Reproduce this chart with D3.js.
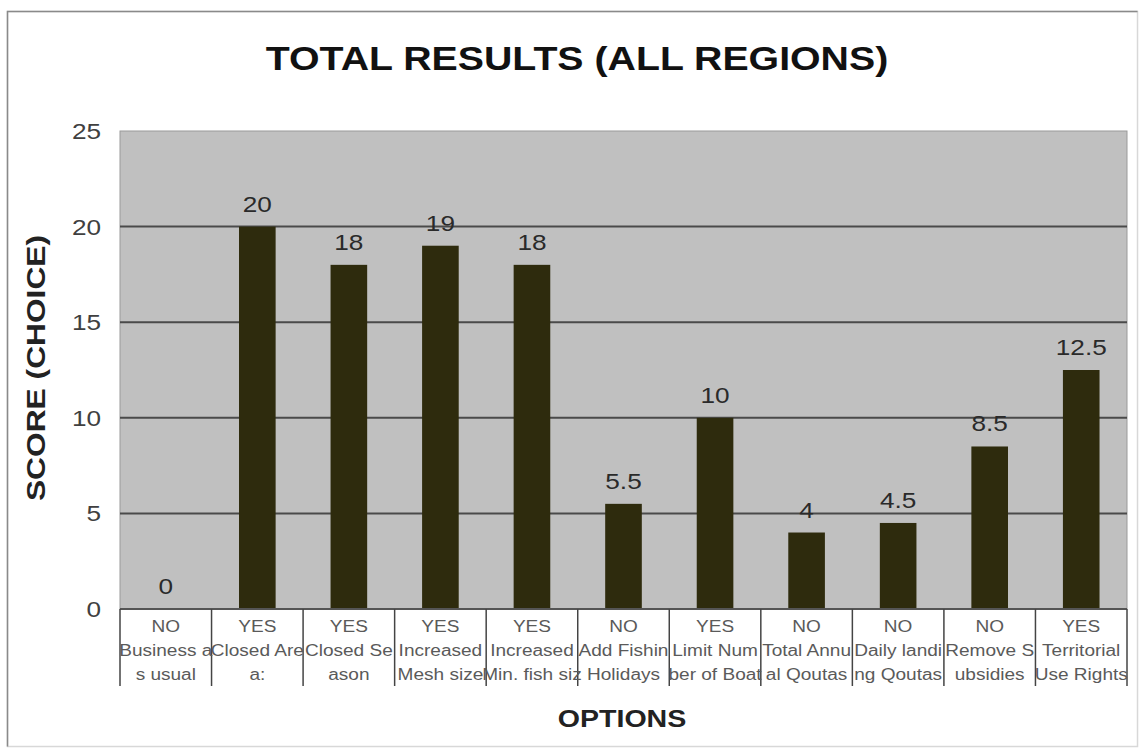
<!DOCTYPE html>
<html>
<head>
<meta charset="utf-8">
<script src="https://cdn.jsdelivr.net/npm/d3@7"></script>
<style>
  body { margin: 0; background: #fff; }
  text { font-family: "Liberation Sans", Arial, sans-serif; }
</style>
</head>
<body>
<div id="chart"></div>
<script>
// chart data
const categories = [
  "Business as usual", "Closed Area", "Closed Season", "Increased Mesh size",
  "Increased Min. fish size", "Add Fishing Holidays", "Limit Number of Boats",
  "Total Annual Qoutas", "Daily landing Qoutas", "Remove Subsidies", "Territorial Use Rights"
];
// label lines as wrapped in the picture
const labelLines = [
  ["NO", "Business a", "s usual"],
  ["YES", "Closed Are", "a:"],
  ["YES", "Closed Se", "ason"],
  ["YES", "Increased", "Mesh size"],
  ["YES", "Increased", "Min. fish siz"],
  ["NO", "Add Fishin", "Holidays"],
  ["YES", "Limit Num", "ber of Boat"],
  ["NO", "Total Annu", "al Qoutas"],
  ["NO", "Daily landi", "ng Qoutas"],
  ["NO", "Remove S", "ubsidies"],
  ["YES", "Territorial", "Use Rights"]
];
const scores = [0, 20, 18, 19, 18, 5.5, 10, 4, 4.5, 8.5, 12.5];
const yTicks = [0, 5, 10, 15, 20, 25];

const width = 1142;
const height = 749;
const plotLeft = 120;
const plotRight = 1127;
const plotTop = 131;
const plotBottom = 609;
const sx = 1.19; // picture is stretched horizontally

const svg = d3.select("#chart")
  .append("svg")
  .attr("width", width)
  .attr("height", height);

// outer chart border: left/top darker, right/bottom faint
svg.append("rect")
  .attr("x", 7.5).attr("y", 11.5)
  .attr("width", 1130).attr("height", 735)
  .attr("fill", "#fff")
  .attr("stroke", "#d8d8d8")
  .attr("stroke-width", 1.5);
svg.append("path")
  .attr("d", "M7.5,746.5V11.5H1137.5")
  .attr("fill", "none")
  .attr("stroke", "#8a8a8a")
  .attr("stroke-width", 1.5);

const x = d3.scaleBand()
  .domain(categories)
  .range([plotLeft, plotRight])
  .paddingInner(0)
  .paddingOuter(0);

const y = d3.scaleLinear()
  .domain([0, 25])
  .range([plotBottom, plotTop]);

// plot area
svg.append("rect")
  .attr("x", plotLeft).attr("y", plotTop)
  .attr("width", plotRight - plotLeft).attr("height", plotBottom - plotTop)
  .attr("fill", "#c0c0c0")
  .attr("stroke", "#9a9a9a");

// grid lines
svg.append("g")
  .selectAll("line")
  .data(yTicks.filter((d) => d > 0 && d < 25))
  .join("line")
  .attr("x1", plotLeft).attr("x2", plotRight)
  .attr("y1", (d) => y(d)).attr("y2", (d) => y(d))
  .attr("stroke", "#4a4a4a")
  .attr("stroke-width", 2);

// helper for stretched text
const stretched = (sel, tx, ty, extra = "") =>
  sel.attr("transform", (d, i) =>
    `translate(${tx(d, i)},${ty(d, i)}) scale(${sx},1)${extra}`);

// y axis labels
svg.append("g")
  .selectAll("text")
  .data(yTicks)
  .join("text")
  .attr("text-anchor", "end")
  .attr("dy", "0.36em")
  .attr("font-size", 22)
  .attr("fill", "#404040")
  .text((d) => d)
  .call(stretched, () => 101, (d) => y(d));

// bars
const barWidth = x.bandwidth() * 0.4;
svg.append("g")
  .selectAll("rect")
  .data(scores)
  .join("rect")
  .attr("x", (d, i) => x(categories[i]) + (x.bandwidth() - barWidth) / 2)
  .attr("y", (d) => y(d))
  .attr("width", barWidth)
  .attr("height", (d) => plotBottom - y(d))
  .attr("fill", "#2e2b0d");

// value labels
svg.append("g")
  .selectAll("text")
  .data(scores)
  .join("text")
  .attr("text-anchor", "middle")
  .attr("font-size", 22)
  .attr("fill", "#2a2a2a")
  .text((d) => d)
  .call(stretched, (d, i) => x(categories[i]) + x.bandwidth() / 2, (d) => y(d) - 15);

// x axis line and category dividers
svg.append("line")
  .attr("x1", plotLeft).attr("x2", plotRight)
  .attr("y1", plotBottom).attr("y2", plotBottom)
  .attr("stroke", "#555")
  .attr("stroke-width", 2);

const dividers = categories.map((c) => x(c)).concat([plotRight]);
svg.append("g")
  .selectAll("line")
  .data(dividers)
  .join("line")
  .attr("x1", (d) => d).attr("x2", (d) => d)
  .attr("y1", plotBottom).attr("y2", 686)
  .attr("stroke", "#444")
  .attr("stroke-width", 1.5);

// category labels
const labelBase = [632, 656, 680];
const lab = svg.append("g")
  .selectAll("g")
  .data(labelLines)
  .join("g");
lab.selectAll("text")
  .data((d, i) => d.map((t, j) => ({ t, j, i })))
  .join("text")
  .attr("text-anchor", "middle")
  .attr("font-size", 16)
  .attr("fill", "#5a5a5a")
  .text((d) => d.t)
  .call(stretched, (d) => x(categories[d.i]) + x.bandwidth() / 2, (d) => labelBase[d.j]);

// title
svg.append("text")
  .attr("text-anchor", "middle")
  .attr("font-size", 33)
  .attr("font-weight", "bold")
  .attr("fill", "#111")
  .attr("transform", `translate(577,70) scale(${sx},1)`)
  .text("TOTAL RESULTS (ALL REGIONS)");

// axis titles
svg.append("text")
  .attr("text-anchor", "middle")
  .attr("font-size", 24)
  .attr("font-weight", "bold")
  .attr("fill", "#222")
  .attr("transform", `translate(622,727) scale(${sx},1)`)
  .text("OPTIONS");

svg.append("text")
  .attr("text-anchor", "middle")
  .attr("font-size", 26)
  .attr("font-weight", "bold")
  .attr("fill", "#222")
  .attr("transform", "translate(45,368) rotate(-90) scale(1.22,1)")
  .text("SCORE (CHOICE)");
</script>
</body>
</html>
